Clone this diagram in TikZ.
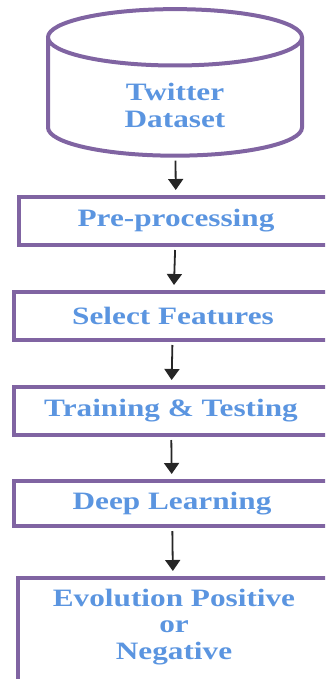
\documentclass[tikz,border=0pt]{standalone}
\usepackage{fontspec}
\setmainfont{Liberation Serif}[FakeStretch=1.25]
\usetikzlibrary{arrows.meta,shapes.geometric}
\definecolor{boxpurple}{HTML}{8064A2}
\definecolor{textblue}{HTML}{5B95E0}
\tikzset{
	stage/.style={draw=boxpurple,line width=4pt,inner sep=0pt,minimum height=48pt,
		font=\bfseries\fontsize{25}{26.5}\selectfont,text=textblue,align=center},
	flow/.style={-{Triangle[width=15pt,length=11pt]},line width=1.8pt,black!85,
		shorten <=3pt,shorten >=5pt}
}
\begin{document}
\begin{tikzpicture}[x=1pt,y=-1pt]
	\useasboundingbox (0,0) rectangle (325,679);
	\clip (0,0) rectangle (325,679);
	\node[stage,cylinder,shape border rotate=90,aspect=0.56,minimum width=254pt,text height=60pt,text depth=0pt] (data) at (175,97.5) {Twitter\\Dataset};
	\node[stage,minimum width=314pt] (prep) at (176,221) {Pre-processing};
	\node[stage,minimum width=318pt] (feat) at (173,316) {Select Features};
	\node[stage,minimum width=314pt] (train) at (171,411) {Training \& Testing};
	\node[stage,minimum width=316pt,minimum height=45pt] (deep) at (172,503.5) {Deep Learning};
	\node[stage,minimum width=312pt,anchor=north,inner ysep=11pt,text depth=80pt] (eval) at (174,576) {Evolution Positive\\or\\Negative};
	\draw[flow] (data) -- (prep);
	\draw[flow] (prep) -- (feat);
	\draw[flow] (feat) -- (train);
	\draw[flow] (train) -- (deep);
	\draw[flow] (deep) -- (eval);
\end{tikzpicture}
\end{document}
